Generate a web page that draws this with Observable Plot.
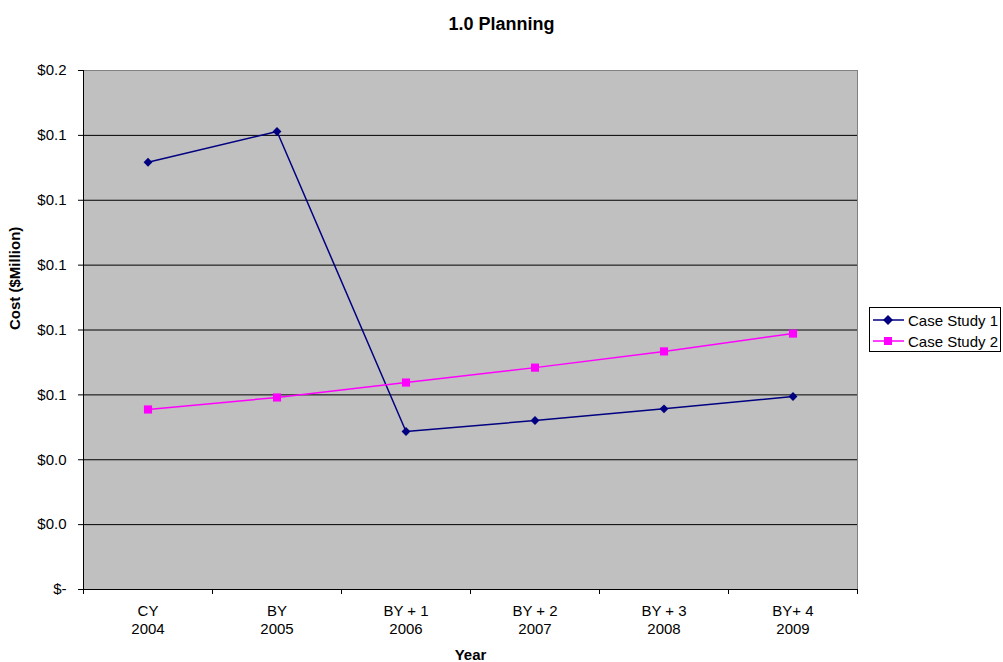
<!DOCTYPE html>
<html>
<head>
<meta charset="utf-8">
<script src="https://cdn.jsdelivr.net/npm/d3@7"></script>
<script src="https://cdn.jsdelivr.net/npm/@observablehq/plot@0.6"></script>
<style>
  html, body { margin: 0; padding: 0; background: #fff; }
  #wrap { position: relative; width: 1003px; height: 662px; font-family: "Liberation Sans", Arial, sans-serif; }
  #legend { position: absolute; left: 869px; top: 307px; width: 132px; height: 45px; border: 1px solid #000; background: #fff; box-sizing: border-box; font-size: 15px; }
  .row { position: absolute; left: 3px; height: 20px; display: flex; align-items: center; white-space: nowrap; }
  .row svg { margin-right: 4px; flex: none; }
</style>
</head>
<body>
<div id="wrap"><div id="legend"></div></div>
<script>
const categories = ["CY\n2004", "BY\n2005", "BY + 1\n2006", "BY + 2\n2007", "BY + 3\n2008", "BY+ 4\n2009"];
const seriesNames = ["Case Study 1", "Case Study 2"];
const caseStudy1 = [0.1317, 0.1412, 0.0487, 0.0521, 0.0557, 0.0595];
const caseStudy2 = [0.0555, 0.0592, 0.0638, 0.0684, 0.0734, 0.0789];
const yTicks = [0, 0.02, 0.04, 0.06, 0.08, 0.10, 0.12, 0.14, 0.16];
const colors = ["#000080", "#FF00FF"];
const symbols = ["diamond2", "square"];
const sizes = [4.0, 4.6];

const seriesRows = [caseStudy1, caseStudy2].map((vals, s) =>
  vals.map((v, i) => ({series: seriesNames[s], i, value: v})));
const catRows = categories.map((c, i) => ({i, label: c}));
const boundaries = d3.range(-0.5, categories.length, 1);

const fmt = d => d === 0 ? "$-" : "$" + d.toFixed(1);

const seriesMarks = seriesRows.flatMap((data, s) => [
  Plot.line(data, {x: "i", y: "value", stroke: colors[s], strokeWidth: 1.5}),
  Plot.dot(data, {x: "i", y: "value", symbol: symbols[s], fill: colors[s], r: sizes[s], stroke: "none"})
]);

const plot = Plot.plot({
  width: 1003,
  height: 662,
  marginLeft: 83,
  marginRight: 146,
  marginTop: 70,
  marginBottom: 73,
  style: {fontFamily: "Liberation Sans, Arial, sans-serif", fontSize: "15px", background: "transparent", color: "#000"},
  x: {type: "linear", domain: [-0.5, categories.length - 0.5]},
  y: {domain: [0, 0.16]},
  marks: [
    Plot.frame({fill: "#C0C0C0", stroke: "#808080"}),
    Plot.gridY(yTicks.filter(t => t > 0 && t < 0.16), {stroke: "#000", strokeOpacity: 1}),
    Plot.ruleY([0], {stroke: "#000"}),
    Plot.ruleX([-0.5], {stroke: "#000"}),
    Plot.axisY({ticks: yTicks, tickFormat: fmt, tickSize: 5, tickPadding: 12, fontSize: 15, label: null}),
    Plot.axisX({ticks: boundaries, tickFormat: () => "", tickSize: 5, label: null}),
    Plot.text(catRows, {x: "i", text: "label", frameAnchor: "bottom", dy: 14, lineAnchor: "top", lineHeight: 1.2, fontSize: 15}),
    ...seriesMarks,
    Plot.text(["1.0 Planning"], {frameAnchor: "top", dx: 31, dy: -53, fontWeight: "bold", fontSize: 18}),
    Plot.text(["Cost ($Million)"], {frameAnchor: "left", dx: -68, rotate: -90, fontWeight: "bold", fontSize: 15}),
    Plot.text(["Year"], {frameAnchor: "bottom", dy: 70, fontWeight: "bold", fontSize: 15})
  ]
});
const wrap = document.getElementById("wrap");
wrap.insertBefore(plot, wrap.firstChild);

const legend = document.getElementById("legend");
seriesNames.forEach((name, s) => {
  const row = document.createElement("div");
  row.className = "row";
  row.style.top = (s === 0 ? 2 : 23) + "px";
  const marker = s === 0
    ? `<polygon points="15,5 20,10 15,15 10,10" fill="${colors[s]}"/>`
    : `<rect x="11" y="6" width="8" height="8" fill="${colors[s]}"/>`;
  row.innerHTML = `<svg width="31" height="20"><line x1="0" x2="31" y1="10" y2="10" stroke="${colors[s]}" stroke-width="1.5"/>${marker}</svg><span>${name}</span>`;
  legend.appendChild(row);
});
</script>
</body>
</html>
